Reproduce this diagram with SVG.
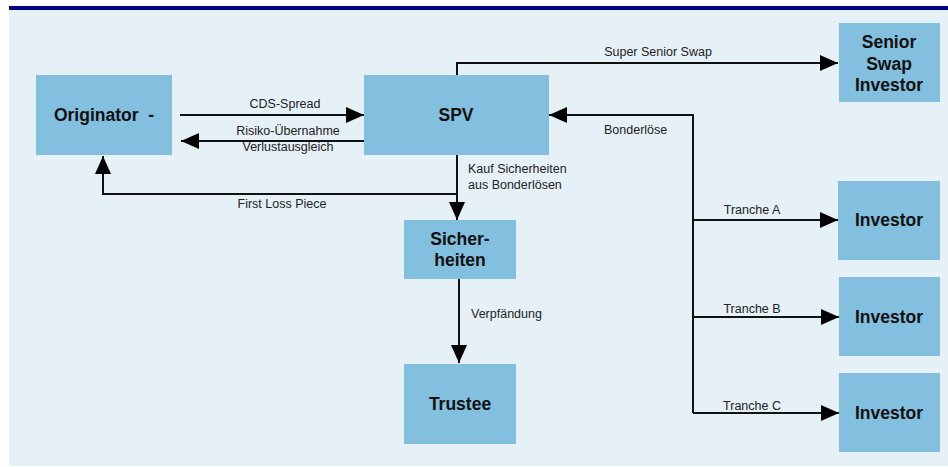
<svg xmlns="http://www.w3.org/2000/svg" width="948" height="467" viewBox="0 0 948 467">
  <style>
    .box { fill: #83BFDE; }
    .name { font-family: "Liberation Sans", Arial, sans-serif; font-size: 17.5px; font-weight: bold; fill: #111; text-anchor: middle; }
    .lbl { font-family: "Liberation Sans", Arial, sans-serif; font-size: 12.5px; fill: #222; }
    .mid { text-anchor: middle; }
    .wire { fill: none; stroke: #111; stroke-width: 2; }
  </style>
  <defs>
    <marker id="arrow" viewBox="0 0 18 16" refX="18" refY="8" markerWidth="18" markerHeight="16" markerUnits="userSpaceOnUse" orient="auto">
      <path d="M0,0 L18,8 L0,16 Z" fill="#000"/>
    </marker>
  </defs>

  <!-- page background and header rule -->
  <rect x="0" y="0" width="948" height="467" fill="#FFFFFF"/>
  <rect x="9" y="10" width="939" height="456" fill="#E6F0F7"/>
  <rect x="9" y="6" width="939" height="4" fill="#000080"/>

  <!-- nodes -->
  <g id="originator">
    <rect class="box" x="36" y="75" width="136" height="80"/>
    <text class="name" x="104" y="121">Originator&#160; -</text>
  </g>
  <g id="spv">
    <rect class="box" x="364" y="75" width="185" height="80"/>
    <text class="name" x="456" y="121">SPV</text>
  </g>
  <g id="senior-swap-investor">
    <rect class="box" x="839" y="23" width="101" height="79"/>
    <text class="name" x="889" y="48">Senior</text>
    <text class="name" x="889" y="70">Swap</text>
    <text class="name" x="889" y="91">Investor</text>
  </g>
  <g id="investor-a">
    <rect class="box" x="838" y="181" width="102" height="79"/>
    <text class="name" x="889" y="226">Investor</text>
  </g>
  <g id="investor-b">
    <rect class="box" x="839" y="277" width="101" height="79"/>
    <text class="name" x="889" y="323">Investor</text>
  </g>
  <g id="investor-c">
    <rect class="box" x="839" y="373" width="101" height="79"/>
    <text class="name" x="889" y="419">Investor</text>
  </g>
  <g id="sicherheiten">
    <rect class="box" x="404" y="220" width="112" height="59"/>
    <text class="name" x="460" y="245">Sicher-</text>
    <text class="name" x="460" y="266">heiten</text>
  </g>
  <g id="trustee">
    <rect class="box" x="404" y="364" width="112" height="80"/>
    <text class="name" x="460" y="410">Trustee</text>
  </g>

  <!-- connectors -->
  <g id="connectors">
    <path class="wire" d="M180,115 H364" marker-end="url(#arrow)"/>
    <path class="wire" d="M364,141 H181" marker-end="url(#arrow)"/>
    <path class="wire" d="M457,155 V194 H103 V156" marker-end="url(#arrow)"/>
    <path class="wire" d="M457,194 V220" marker-end="url(#arrow)"/>
    <path class="wire" d="M459,279 V363" marker-end="url(#arrow)"/>
    <path class="wire" d="M457,75 V63 H838" marker-end="url(#arrow)"/>
    <path class="wire" d="M693,413 V115 H549" marker-end="url(#arrow)"/>
    <path class="wire" d="M693,220 H838" marker-end="url(#arrow)"/>
    <path class="wire" d="M693,317 H839" marker-end="url(#arrow)"/>
    <path class="wire" d="M693,413 H839" marker-end="url(#arrow)"/>
  </g>

  <!-- connector labels -->
  <g id="labels">
    <text class="lbl mid" x="285" y="108">CDS-Spread</text>
    <text class="lbl mid" x="288" y="135">Risiko-Übernahme</text>
    <text class="lbl mid" x="288" y="151">Verlustausgleich</text>
    <text class="lbl mid" x="282" y="208">First Loss Piece</text>
    <text class="lbl" x="468" y="173">Kauf Sicherheiten</text>
    <text class="lbl" x="468" y="189">aus Bonderlösen</text>
    <text class="lbl" x="471" y="318">Verpfändung</text>
    <text class="lbl mid" x="658" y="56">Super Senior Swap</text>
    <text class="lbl" x="604" y="134">Bonderlöse</text>
    <text class="lbl mid" x="752" y="214">Tranche A</text>
    <text class="lbl mid" x="752" y="313">Tranche B</text>
    <text class="lbl mid" x="752" y="410">Tranche C</text>
  </g>
</svg>
